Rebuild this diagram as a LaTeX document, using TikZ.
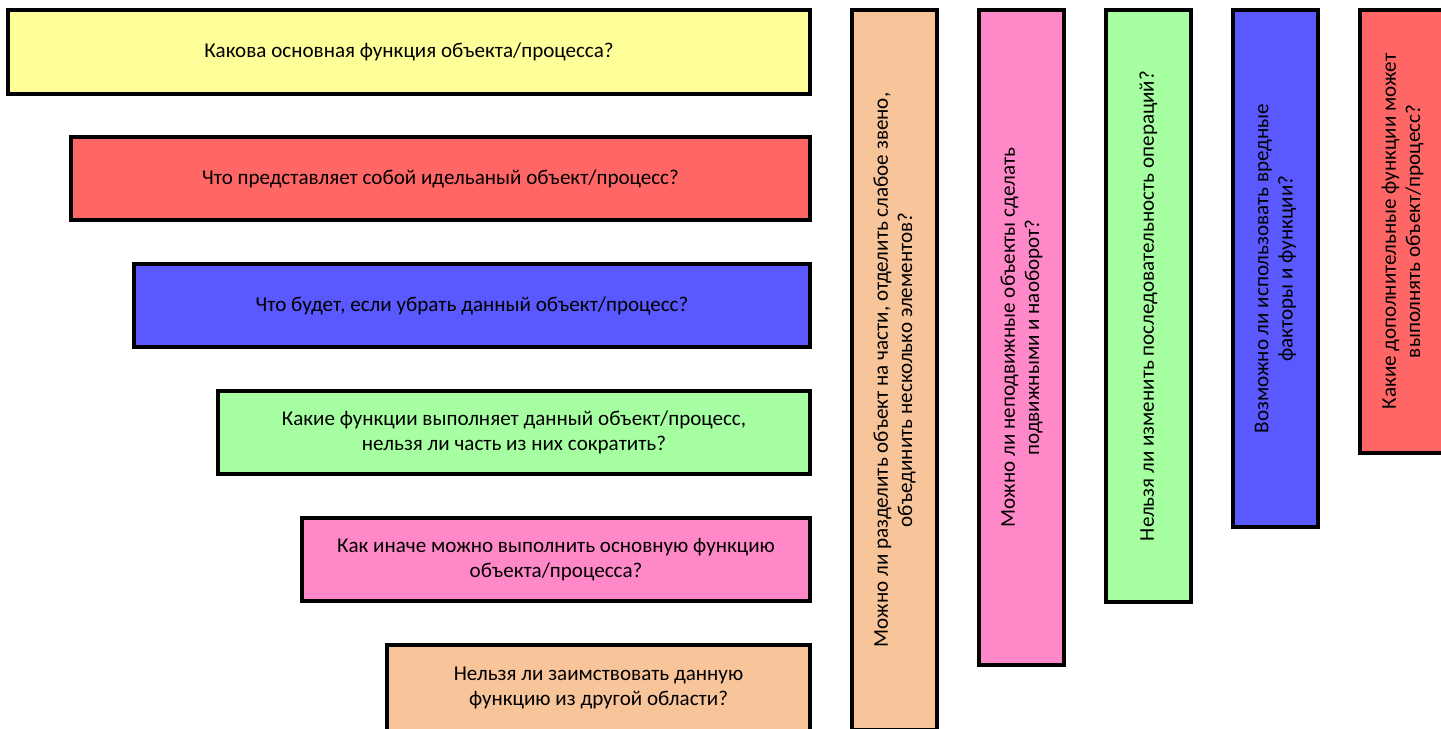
\documentclass[tikz,border=0pt]{standalone}
\usepackage{fontspec}
\setmainfont{Carlito}
\definecolor{qyellow}{RGB}{255,255,153}
\definecolor{qred}{RGB}{255,102,102}
\definecolor{qblue}{RGB}{89,89,255}
\definecolor{qgreen}{RGB}{166,255,161}
\definecolor{qpink}{RGB}{255,136,200}
\definecolor{qpeach}{RGB}{248,196,153}
\tikzset{every picture/.style={line width=0.75pt}}
\tikzset{
  qbox/.style={draw=black, line width=2.6pt, inner sep=0pt, anchor=center, align=center,
    font=\fontsize{15.8}{18.2}\selectfont, minimum height=83*0.75pt},
  vbox/.style={qbox, rotate=90, minimum height=85*0.75pt}
}

\begin{document}
\begin{tikzpicture}[x=0.75pt,y=0.75pt,yscale=-1,xscale=1]
	\useasboundingbox (0,0) rectangle (1441,728);
	
	%Shape: Rectangle [row 1]
	\node (main) [qbox, fill=qyellow, minimum width=802*0.75pt, minimum height=84*0.75pt] at (409,52) {Какова основная функция объекта/процесса?};
	%Shape: Rectangle [row 2]
	\node (ideal) [qbox, fill=qred, minimum width=739*0.75pt] at (440.5,178.5) {Что представляет собой идельаный объект/процесс?};
	%Shape: Rectangle [row 3]
	\node (remove) [qbox, fill=qblue, minimum width=676*0.75pt] at (472,305.5) {Что будет, если убрать данный объект/процесс?};
	%Shape: Rectangle [row 4]
	\node (funcs) [qbox, fill=qgreen, minimum width=592*0.75pt] at (514,432.5) {Какие функции выполняет данный объект/процесс,\\нельзя ли часть из них сократить?};
	%Shape: Rectangle [row 5]
	\node (other) [qbox, fill=qpink, minimum width=508*0.75pt] at (556,559.5) {Как иначе можно выполнить основную функцию\\объекта/процесса?};
	%Shape: Rectangle [row 6]
	\node (borrow) [qbox, fill=qpeach, minimum width=423*0.75pt, minimum height=86*0.75pt] at (598.5,688) {Нельзя ли заимствовать данную\\функцию из другой области?};
	
	%Shape: Rectangle [column 1]
	\node (split) [vbox, fill=qpeach, minimum width=720*0.75pt] at (894.5,370) {Можно ли разделить объект на части, отделить слабое звено,\\объединить несколько элементов?};
	%Shape: Rectangle [column 2]
	\node (moving) [vbox, fill=qpink, minimum width=655*0.75pt] at (1021.5,337.5) {Можно ли неподвижные объекты сделать\\подвижными и наоборот?};
	%Shape: Rectangle [column 3]
	\node (order) [vbox, fill=qgreen, minimum width=592*0.75pt] at (1148.5,306) {Нельзя ли изменить последовательность операций?};
	%Shape: Rectangle [column 4]
	\node (harm) [vbox, fill=qblue, minimum width=517*0.75pt] at (1275.5,268.5) {Возможно ли использовать вредные\\факторы и функции?};
	%Shape: Rectangle [column 5]
	\node (extra) [vbox, fill=qred, minimum width=443*0.75pt] at (1402.5,231.5) {Какие дополнительные функции может\\выполнять объект/процесс?};
	
\end{tikzpicture}
\end{document}
